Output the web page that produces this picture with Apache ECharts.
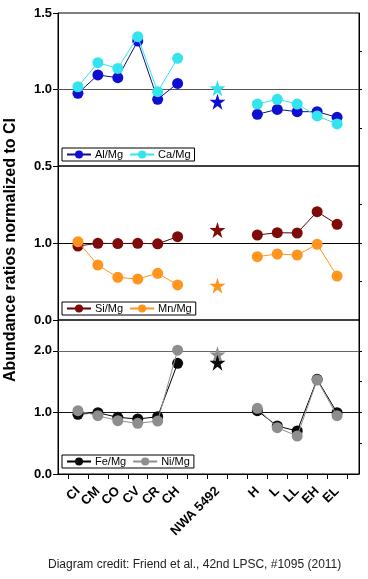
<!DOCTYPE html>
<html><head><meta charset="utf-8">
<script src="https://cdn.jsdelivr.net/npm/echarts@6/dist/echarts.min.js"></script>
<style>html,body{margin:0;padding:0;background:#fff}#c{width:368px;height:579px}</style>
</head><body><div id="c"></div>
<script>
// Categories along x (slot index; empty slots between groups)
const categories = ['CI','CM','CO','CV','CR','CH','NWA 5492','H','L','LL','EH','EL'];
const slots = [0,1,2,3,4,5,7,9,10,11,12,13];
const tickSlots = [-0.5,0.5,1.5,2.5,3.5,4.5,5.5,6.5,7.5,8.5,9.5,10.5,11.5,12.5,13.5];
// index 6 = NWA 5492 (star)
const alMg = [0.975,1.095,1.077,1.317,0.936,1.04,0.92,0.838,0.87,0.855,0.855,0.818];
const caMg = [1.018,1.175,1.138,1.345,0.986,1.204,1.008,0.905,0.936,0.905,0.827,0.775];
const siMg = [0.961,0.996,0.993,0.996,0.99,1.082,1.169,1.104,1.134,1.13,1.407,1.242];
const mnMg = [1.017,0.714,0.554,0.532,0.606,0.455,0.446,0.823,0.857,0.844,0.983,0.571];
const feMg = [0.969,0.995,0.92,0.893,0.93,1.797,1.807,1.028,0.779,0.698,1.537,0.995];
const niMg = [1.028,0.947,0.866,0.823,0.86,2.01,1.943,1.066,0.752,0.617,1.526,0.947];
const yLabels1 = [0.5,1.0,1.5], yLabels2 = [0,1.0], yLabels3 = [0,1.0,2.0];

const FONT = '"Liberation Sans", Arial, sans-serif';
const STAR = 'path://M50,0 L61.8,35.3 L99,35.3 L68.9,57.1 L80.4,92.7 L50,70.6 L19.6,92.7 L31.1,57.1 L1,35.3 L38.2,35.3 Z';

const panels = [
  {top:13, h:153, min:0.5, max:1.5, labels:yLabels1, rticks:[0.75,1.0,1.25],
   refs:[{v:1,c:'#555'}],
   s:[{name:'Al/Mg',d:alMg,fill:'#0f0fd2',line:'#12127a'},{name:'Ca/Mg',d:caMg,fill:'#33e4ee',line:'#33e4ee'}],
   legendTop:148},
  {top:166, h:154, min:0, max:2, labels:yLabels2, rticks:[0.5,1.0,1.5],
   refs:[{v:1,c:'#000'}],
   s:[{name:'Si/Mg',d:siMg,fill:'#7e0a0a',line:'#5a0505'},{name:'Mn/Mg',d:mnMg,fill:'#ff951f',line:'#ff951f'}],
   legendTop:302},
  {top:320, h:154, min:0, max:2.5, labels:yLabels3, rticks:[0.5,1.0,1.5,2.0],
   refs:[{v:1,c:'#111'},{v:2,c:'#666'}],
   s:[{name:'Fe/Mg',d:feMg,fill:'#0a0a0a',line:'#000'},{name:'Ni/Mg',d:niMg,fill:'#8e8e8e',line:'#8e8e8e'}],
   legendTop:455}
];

const grid=[], xAxis=[], yAxis=[], series=[], legend=[];
panels.forEach((p,i)=>{
  grid.push({left:58, right:9, top:p.top, height:p.h, show:true, borderColor:'#000', borderWidth:1, backgroundColor:'transparent'});
  const last = i===2;
  xAxis.push({type:'value', gridIndex:i, min:-1, max:14.1, show:last,
    axisLine:{show:true, onZero:false, lineStyle:{color:'#000',width:1}},
    axisTick:{show:last, customValues:tickSlots, length:5, lineStyle:{color:'#000'}},
    axisLabel:{show:last, customValues:slots, rotate:45, margin:15,
      formatter:v=>categories[slots.indexOf(v)], color:'#000', fontWeight:'bold', fontSize:13, fontFamily:FONT},
    splitLine:{show:false}});
  yAxis.push({type:'value', gridIndex:i, min:p.min, max:p.max, position:'left',
    axisLine:{show:true, onZero:false, lineStyle:{color:'#000',width:1}},
    axisTick:{show:true, customValues:p.labels, length:5, lineStyle:{color:'#000'}},
    axisLabel:{customValues:p.labels, formatter:v=>v.toFixed(1), margin:6, color:'#000', fontWeight:'bold', fontSize:13, fontFamily:FONT},
    splitLine:{show:false}});
  yAxis.push({type:'value', gridIndex:i, min:p.min, max:p.max, position:'right',
    axisLine:{show:true, onZero:false, lineStyle:{color:'#000',width:1}},
    axisTick:{show:true, customValues:p.rticks, length:3, lineStyle:{color:'#000'}},
    axisLabel:{show:false}, splitLine:{show:false}});
  p.s.forEach((s,k)=>{
    const data = s.d.map((v,j)=> j===6 ? [slots[j],'-'] : [slots[j], v]);
    const ser = {type:'line', name:s.name, xAxisIndex:i, yAxisIndex:2*i, data,
      symbol:'circle', symbolSize:11, connectNulls:false, z:3+k,
      itemStyle:{color:s.fill, borderWidth:0},
      lineStyle:{color:s.line, width:1}, emphasis:{disabled:true}, animation:false};
    if(k===0){
      ser.markLine = {silent:true, symbol:'none', label:{show:false}, animation:false, z:1,
        lineStyle:{type:'solid', width:1},
        data:p.refs.map(r=>({yAxis:r.v, lineStyle:{color:r.c, type:'solid', width:1}}))};
    }
    series.push(ser);
  });
  [1,0].forEach(k=>{
    const s=p.s[k];
    series.push({type:'scatter', name:s.name+' NWA', xAxisIndex:i, yAxisIndex:2*i,
      data:[[slots[6], s.d[6]]], symbol:STAR, symbolSize:16, z:5+(k===0?1:0),
      itemStyle:{color:s.fill, opacity:1}, emphasis:{disabled:true}, animation:false});
  });
  legend.push({left:62, top:p.legendTop, orient:'horizontal', data:p.s.map(s=>s.name),
    borderColor:'#000', borderWidth:1, padding:[1,4], itemGap:6, itemWidth:24, itemHeight:10,
    selectedMode:false, textStyle:{color:'#000', fontSize:11, fontFamily:FONT, padding:[0,0,0,-1]}});
});

const chart = echarts.init(document.getElementById('c'), null, {renderer:'canvas'});
chart.setOption({
  animation:false, backgroundColor:'#fff',
  grid, xAxis, yAxis, series, legend,
  title:{text:'Diagram credit: Friend et al., 42nd LPSC, #1095 (2011)', left:48, top:559,
    textStyle:{fontSize:12, fontWeight:'normal', color:'#222', fontFamily:FONT}, padding:0},
  graphic:[{type:'text', x:11, y:250, rotation:Math.PI/2,
    style:{text:'Abundance ratios normalized to CI', font:'bold 16px "Liberation Sans", Arial, sans-serif',
      fill:'#000', align:'center', verticalAlign:'middle'}}]
});
</script></body></html>
